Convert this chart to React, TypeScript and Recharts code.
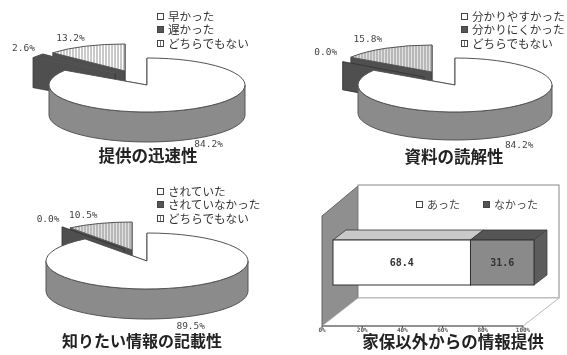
import React from 'react';
import { PieChart, Pie, BarChart, Bar, XAxis, YAxis, Legend } from 'recharts';

// pies
const speedNames = ['早かった', '遅かった', 'どちらでもない'];
const speedValues = [84.2, 2.6, 13.2];
const clarityNames = ['分かりやすかった', '分かりにくかった', 'どちらでもない'];
const clarityValues = [84.2, 0.0, 15.8];
const detailNames = ['されていた', 'されていなかった', 'どちらでもない'];
const detailValues = [89.5, 0.0, 10.5];

// stacked bar
const otherInfoNames = ['あった', 'なかった'];
const otherInfoValues = [68.4, 31.6];
const percentTicks = [0, 20, 40, 60, 80, 100];

const FONT = '"Noto Sans CJK JP", "Noto Sans", sans-serif';
const NUM_FONT = '"DejaVu Sans Mono", monospace';
const WALL = '#8b8b8b';
const DARK = '#4f4f4f';
const EDGE = '#555';

const rad = (a: number) => (a * Math.PI) / 180;

// recharts hands us circular sectors, this one squashes them into a tilted slab
const Slab = (p: any) => {
  const g = p.geom;
  const { dx, dy, ry } = g.slices[p.order];
  const cx = p.cx + dx;
  const cy = p.cy + dy;
  const rx = p.outerRadius;
  const depth = g.depth;
  const a0 = p.startAngle;
  const a1 = p.endAngle;
  const at = (a: number) => [cx + rx * Math.cos(rad(a)), cy - ry * Math.sin(rad(a))];
  const [x0, y0] = at(a0);
  const [x1, y1] = at(a1);

  const fronts: string[] = [];
  for (let k = 0; k < 2; k++) {
    const lo = Math.max(a0, 180 + 360 * k);
    const hi = Math.min(a1, 360 + 360 * k);
    if (hi > lo) {
      const [lx, ly] = at(lo);
      const [hx, hy] = at(hi);
      fronts.push(
        `M${lx},${ly} A${rx},${ry} 0 0 0 ${hx},${hy} L${hx},${hy + depth} A${rx},${ry} 0 0 1 ${lx},${ly + depth} Z`
      );
    }
  }
  const radial = (x: number, y: number) =>
    `M${cx},${cy} L${x},${y} L${x},${y + depth} L${cx},${cy + depth} Z`;
  const large = a1 - a0 > 180 ? 1 : 0;

  return (
    <g>
      <path d={radial(x0, y0)} fill={DARK} stroke="#333" strokeWidth={0.6} />
      <path d={radial(x1, y1)} fill={DARK} stroke="#333" strokeWidth={0.6} />
      {fronts.map((d) => (
        <path key={d} d={d} fill={WALL} stroke={EDGE} strokeWidth={1} />
      ))}
      {a1 - a0 > 0.01 && (
        <path
          d={`M${cx},${cy} L${x0},${y0} A${rx},${ry} 0 ${large} 0 ${x1},${y1} Z`}
          fill={p.order === 0 ? '#fff' : p.order === 1 ? DARK : `url(#${g.id})`}
          stroke={EDGE}
          strokeWidth={1}
        />
      )}
    </g>
  );
};

const sliceLabel = (g: any) => (p: any) => {
  const s = g.slices[p.order ?? p.payload.order];
  const x = p.cx + s.dx + p.outerRadius * Math.cos(rad(p.midAngle)) + s.lx;
  const y = p.cy + s.dy - s.ry * Math.sin(rad(p.midAngle)) + s.ly;
  return (
    <text x={x} y={y} textAnchor="middle" dominantBaseline="middle" fontFamily={NUM_FONT} fontSize={9.5} fill="#444">
      {`${p.value.toFixed(1)}%`}
    </text>
  );
};

const Mark = ({ kind }: { kind: number }) => (
  <svg width={7} height={7} style={{ marginRight: 4, flex: 'none' }}>
    <rect x={0.5} y={0.5} width={6} height={6} fill={kind === 1 ? '#555' : '#fff'} stroke="#444" />
    {kind === 2 && <line x1={3.5} y1={1} x2={3.5} y2={6} stroke="#777" />}
  </svg>
);

const stackedLegend = (names: string[]) => () => (
  <div style={{ fontFamily: FONT, fontSize: 11.6, lineHeight: '13.3px', color: '#333' }}>
    {names.map((n, i) => (
      <div key={n} style={{ display: 'flex', alignItems: 'center', whiteSpace: 'nowrap' }}>
        <Mark kind={i} />
        {n}
      </div>
    ))}
  </div>
);

const TiltedPie = ({ id, left, top, names, values, title, titleX, titleY, titleSize, legendX, legendY, geom }: any) => {
  // drawn hatched slice first so the big white one ends up on top
  const table = names
    .map((name: string, i: number) => ({ name, value: values[i], order: i }))
    .reverse();
  const g = { ...geom, id };
  return (
    <div style={{ position: 'absolute', left, top }}>
      <PieChart width={284} height={178} margin={{ top: 0, right: 0, bottom: 0, left: 0 }}>
        <defs>
          <pattern id={id} width={3} height={3} patternUnits="userSpaceOnUse">
            <rect width={3} height={3} fill={geom.hatchBg} />
            <line x1={1} y1={0} x2={1} y2={3} stroke="#777" strokeWidth={0.8} />
          </pattern>
        </defs>
        <Pie
          data={table}
          dataKey="value"
          nameKey="name"
          cx={geom.cx}
          cy={geom.cy}
          innerRadius={0}
          outerRadius={geom.rx}
          startAngle={90}
          endAngle={450}
          stroke="none"
          isAnimationActive={false}
          labelLine={false}
          label={sliceLabel(g)}
          shape={(p: any) => <Slab {...p} geom={g} />}
        />
        <Legend
          layout="vertical"
          align="center"
          verticalAlign="middle"
          wrapperStyle={{ left: legendX, top: legendY, width: 'auto' }}
          content={stackedLegend(names)}
        />
        <text
          x={titleX}
          y={titleY}
          textAnchor="middle"
          dominantBaseline="middle"
          fontFamily={FONT}
          fontWeight={700}
          fontSize={titleSize}
          fill="#222"
        >
          {title}
        </text>
      </PieChart>
    </div>
  );
};

const speedGeom = {
  cx: 147, cy: 85, rx: 98, depth: 30, hatchBg: '#fff',
  slices: [
    { dx: 0, dy: 0, ry: 27, lx: 15, ly: 36 },
    { dx: -32, dy: -12, ry: 28, lx: -14, ly: -7 },
    { dx: -22, dy: -14, ry: 27, lx: -15, ly: -8 },
  ],
};
const clarityGeom = {
  cx: 172, cy: 85, rx: 97, depth: 28, hatchBg: '#e2e2e2',
  slices: [
    { dx: 0, dy: 0, ry: 27, lx: 18, ly: 37 },
    { dx: -31, dy: -8, ry: 28, lx: -17, ly: -9 },
    { dx: -23, dy: -13, ry: 27, lx: -18, ly: -9 },
  ],
};
const detailGeom = {
  cx: 147, cy: 83, rx: 101, depth: 30, hatchBg: '#e2e2e2',
  slices: [
    { dx: 0, dy: 0, ry: 28, lx: 11, ly: 39 },
    { dx: -23, dy: -12, ry: 28, lx: -14, ly: -7 },
    { dx: -15, dy: -11, ry: 28, lx: -16, ly: -8 },
  ],
};

const BAR_SHIFT = 11;
const Block = (p: any) => {
  const x = p.x + BAR_SHIFT;
  const { y, width: w, height: h } = p;
  const dx = 13;
  const dy = -10;
  const first = p.fill === '#fff';
  return (
    <g>
      <polygon
        points={`${x},${y} ${x + dx},${y + dy} ${x + w + dx},${y + dy} ${x + w},${y}`}
        fill={first ? '#c9c9c9' : '#555'}
        stroke="#333"
        strokeWidth={0.8}
      />
      {!first && (
        <polygon
          points={`${x + w},${y} ${x + w + dx},${y + dy} ${x + w + dx},${y + h + dy} ${x + w},${y + h}`}
          fill="#5c5c5c"
          stroke="#444"
          strokeWidth={0.8}
        />
      )}
      <rect x={x} y={y} width={w} height={h} fill={p.fill} stroke="#333" strokeWidth={1} />
      <text
        x={x + w / 2}
        y={y + h / 2}
        textAnchor="middle"
        dominantBaseline="middle"
        fontFamily={NUM_FONT}
        fontWeight={700}
        fontSize={10}
        fill="#333"
      >
        {p.payload[p.dataKey].toFixed(1)}
      </text>
    </g>
  );
};

const barRow: any = { name: '家保以外' };
otherInfoNames.forEach((n, i) => {
  barRow[n] = otherInfoValues[i];
});

const barLegend = () => (
  <div style={{ fontFamily: FONT, fontSize: 11, color: '#444', display: 'flex', whiteSpace: 'nowrap' }}>
    {otherInfoNames.map((n, i) => (
      <span key={n} style={{ display: 'flex', alignItems: 'center', marginRight: 23 }}>
        <Mark kind={i} />
        {n}
      </span>
    ))}
  </div>
);

export default function App() {
  return (
    <div
      style={{
        position: 'absolute',
        left: 0,
        top: 0,
        width: 567,
        height: 355,
        background: '#fff',
        overflow: 'hidden',
        filter: 'blur(0.7px)',
      }}
    >
      <TiltedPie
        id="hatchSpeed" left={0} top={0} names={speedNames} values={speedValues}
        title="提供の迅速性" titleX={148} titleY={158} titleSize={16.5} legendX={157} legendY={10} geom={speedGeom}
      />
      <TiltedPie
        id="hatchClarity" left={283} top={0} names={clarityNames} values={clarityValues}
        title="資料の読解性" titleX={171} titleY={159} titleSize={16.5} legendX={178} legendY={10} geom={clarityGeom}
      />
      <TiltedPie
        id="hatchDetail" left={0} top={178} names={detailNames} values={detailValues}
        title="知りたい情報の記載性" titleX={142} titleY={165} titleSize={16} legendX={157} legendY={7} geom={detailGeom}
      />
      <div style={{ position: 'absolute', left: 283, top: 178 }}>
        <BarChart
          width={284}
          height={177}
          layout="vertical"
          data={[barRow]}
          margin={{ top: 21, right: 44, bottom: 0, left: 39 }}
        >
          <polygon points="39,38 75,8 75,120 39,148" fill="#8f8f8f" stroke="#666" />
          <rect x={75} y={7} width={201} height={113} fill="#fff" stroke="#888" />
          <polygon points="75,120 276,120 240,148 39,148" fill="#fff" stroke="#bbb" />
          <XAxis
            type="number"
            domain={[0, 100]}
            ticks={percentTicks}
            tickFormatter={(v) => `${v}%`}
            tick={{ fontSize: 6, fontFamily: NUM_FONT, fontWeight: 700, fill: '#555' }}
            tickSize={2}
            tickMargin={0}
            height={29}
            stroke="#444"
          />
          <YAxis type="category" dataKey="name" hide />
          <Bar dataKey={otherInfoNames[0]} stackId="a" fill="#fff" barSize={45} isAnimationActive={false} shape={Block} />
          <Bar dataKey={otherInfoNames[1]} stackId="a" fill="#8a8a8a" barSize={45} isAnimationActive={false} shape={Block} />
          <Legend
            layout="vertical"
            align="center"
            verticalAlign="middle"
            wrapperStyle={{ left: 133, top: 18, width: 'auto' }}
            content={barLegend}
          />
          <text
            x={170}
            y={166}
            textAnchor="middle"
            dominantBaseline="middle"
            fontFamily={FONT}
            fontWeight={700}
            fontSize={16.5}
            fill="#222"
          >
            家保以外からの情報提供
          </text>
        </BarChart>
      </div>
    </div>
  );
}
